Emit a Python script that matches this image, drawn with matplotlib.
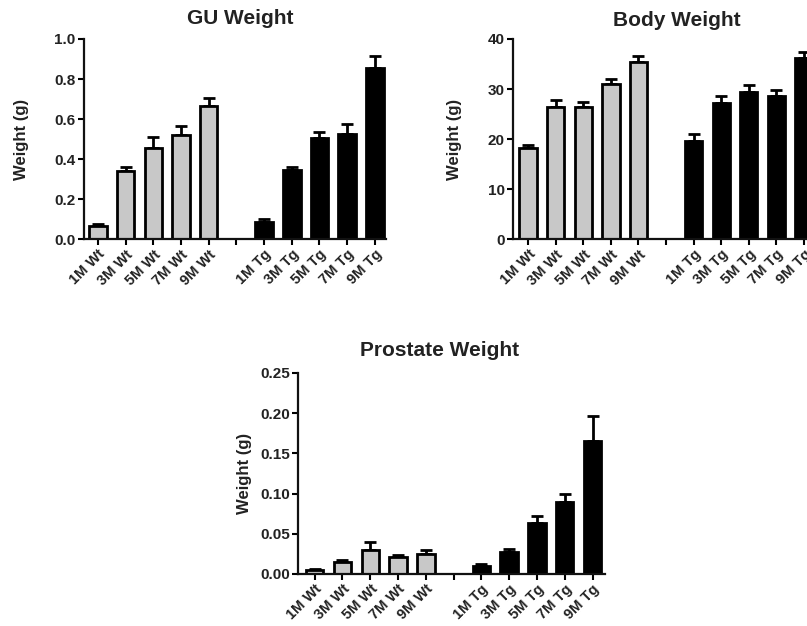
import numpy as np
import matplotlib
matplotlib.use('Agg')
import matplotlib.pyplot as plt

plt.rcParams['font.family'] = ['Liberation Sans', 'DejaVu Sans']
plt.rcParams['font.weight'] = 'bold'

labels = ['1M Wt', '3M Wt', '5M Wt', '7M Wt', '9M Wt', '',
          '1M Tg', '3M Tg', '5M Tg', '7M Tg', '9M Tg']

gu_wt = [0.064, 0.340, 0.456, 0.519, 0.666]
gu_wt_err = [0.011, 0.020, 0.056, 0.048, 0.039]
gu_tg = [0.085, 0.344, 0.506, 0.526, 0.857]
gu_tg_err = [0.013, 0.016, 0.028, 0.048, 0.060]

body_wt = [18.2, 26.5, 26.5, 31.0, 35.4]
body_wt_err = [0.6, 1.3, 0.9, 1.0, 1.2]
body_tg = [19.6, 27.3, 29.4, 28.6, 36.3]
body_tg_err = [1.4, 1.3, 1.5, 1.2, 1.1]

pro_wt = [0.005, 0.0149, 0.030, 0.0215, 0.0248]
pro_wt_err = [0.0016, 0.0021, 0.0097, 0.0021, 0.0052]
pro_tg = [0.0103, 0.0277, 0.064, 0.090, 0.166]
pro_tg_err = [0.0021, 0.0037, 0.0087, 0.010, 0.031]

GREY = '#c8c8c8'
TXT = '#222222'


def draw_panel(ax, wt, wt_err, tg, tg_err, ylim, yticks, fmt, xlim, ylab_pos):
    x_wt = np.arange(5)
    x_tg = np.arange(6, 11)
    for xs, vals, errs, col in [(x_wt, wt, wt_err, GREY), (x_tg, tg, tg_err, 'black')]:
        ax.bar(xs, vals, width=0.63, color=col, edgecolor='black',
               linewidth=2, zorder=2)
        ax.errorbar(xs, vals, yerr=[np.zeros(len(errs)), errs], fmt='none',
                    ecolor='black', elinewidth=2, capsize=4, capthick=2,
                    zorder=1)
    ax.set_xlim(*xlim)
    ax.set_ylim(*ylim)
    ax.set_yticks(yticks)
    ax.set_yticklabels([fmt.format(v) for v in yticks], fontsize=11,
                       color=TXT, fontweight='bold')
    ax.set_xticks(np.arange(11))
    ax.set_xticklabels(labels, rotation=45, ha='right', rotation_mode='anchor',
                       fontsize=10.5, color=TXT, fontweight='bold')
    for s in ['top', 'right']:
        ax.spines[s].set_visible(False)
    for s in ['left', 'bottom']:
        ax.spines[s].set_linewidth(1.6)
        ax.spines[s].set_color('#111111')
    ax.tick_params(direction='out', length=4, width=1.5, pad=2)
    ax.set_ylabel('Weight (g)', fontsize=12, color=TXT, fontweight='bold')
    ax.yaxis.set_label_coords(*ylab_pos)


fig = plt.figure(figsize=(8.07, 6.26), dpi=100)

ax1 = fig.add_axes([0.1041, 0.6182, 0.3742, 0.3195])
draw_panel(ax1, gu_wt, gu_wt_err, gu_tg, gu_tg_err, (0, 1.0),
           [0.0, 0.2, 0.4, 0.6, 0.8, 1.0], '{:.1f}', (-0.5, 10.4),
           (-0.182, 0.5))

ax2 = fig.add_axes([0.6357, 0.6182, 0.3742, 0.3195])
draw_panel(ax2, body_wt, body_wt_err, body_tg, body_tg_err, (0, 40),
           [0, 10, 20, 30, 40], '{:d}', (-0.55, 10.4), (-0.17, 0.5))

ax3 = fig.add_axes([0.3693, 0.0831, 0.3804, 0.3211])
draw_panel(ax3, pro_wt, pro_wt_err, pro_tg, pro_tg_err, (0, 0.25),
           [0.0, 0.05, 0.10, 0.15, 0.20, 0.25], '{:.2f}', (-0.6, 10.45),
           (-0.15, 0.5))

fig.text(240 / 807, 1 - 18 / 626, 'GU Weight', ha='center', va='center',
         fontsize=15, fontweight='bold', color=TXT)
fig.text(677 / 807, 1 - 21 / 626, 'Body Weight', ha='center', va='center',
         fontsize=15, fontweight='bold', color=TXT)
fig.text(440 / 807, 1 - 350 / 626, 'Prostate Weight', ha='center', va='center',
         fontsize=15, fontweight='bold', color=TXT)

fig.savefig('out.png', dpi=100)
plt.close(fig)
